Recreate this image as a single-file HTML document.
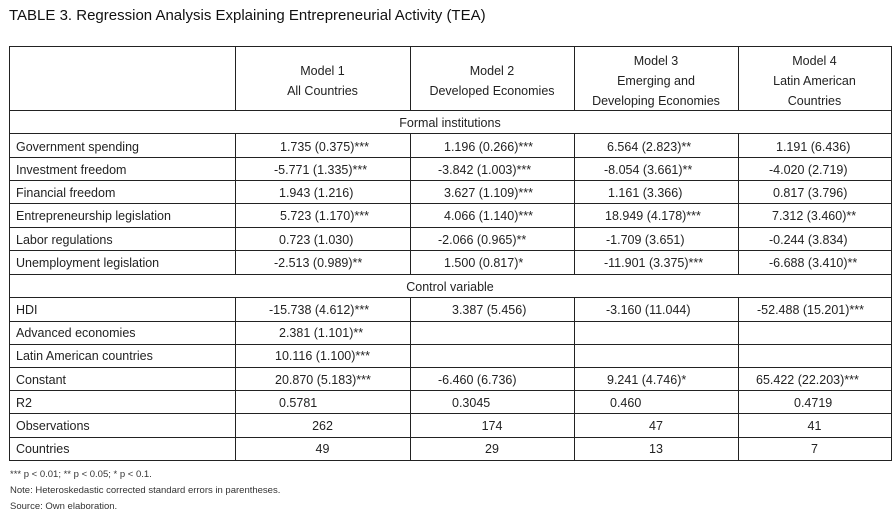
<!DOCTYPE html>
<html><head><meta charset="utf-8"><style>
body{margin:0;background:#fff;width:895px;height:530px;position:relative;overflow:hidden;font-family:"Liberation Sans",sans-serif;color:#222}
.t{position:absolute;white-space:nowrap;font-size:12.5px;line-height:14px}
.c{text-align:center}
.h{position:absolute;background:#222;height:1px}
.v{position:absolute;background:#222;width:1px}
.f{position:absolute;font-size:9.5px;white-space:nowrap;color:#333}
</style></head><body>
<div class="t" style="left:9px;top:8px;font-size:15px;line-height:16px;color:#111">TABLE 3. Regression Analysis Explaining Entrepreneurial Activity (TEA)</div>

<div class="h" style="left:9px;width:882px;top:46px"></div>
<div class="h" style="left:9px;width:882px;top:110px"></div>
<div class="h" style="left:9px;width:882px;top:133px"></div>
<div class="h" style="left:9px;width:882px;top:157px"></div>
<div class="h" style="left:9px;width:882px;top:180px"></div>
<div class="h" style="left:9px;width:882px;top:203px"></div>
<div class="h" style="left:9px;width:882px;top:227px"></div>
<div class="h" style="left:9px;width:882px;top:250px"></div>
<div class="h" style="left:9px;width:882px;top:274px"></div>
<div class="h" style="left:9px;width:882px;top:297px"></div>
<div class="h" style="left:9px;width:882px;top:321px"></div>
<div class="h" style="left:9px;width:882px;top:344px"></div>
<div class="h" style="left:9px;width:882px;top:367px"></div>
<div class="h" style="left:9px;width:882px;top:390px"></div>
<div class="h" style="left:9px;width:882px;top:413px"></div>
<div class="h" style="left:9px;width:882px;top:437px"></div>
<div class="h" style="left:9px;width:882px;top:460px"></div>
<div class="v" style="left:9px;top:46px;height:415px"></div>
<div class="v" style="left:891px;top:46px;height:415px"></div>
<div class="v" style="left:235px;top:46px;height:65px"></div>
<div class="v" style="left:410px;top:46px;height:65px"></div>
<div class="v" style="left:574px;top:46px;height:65px"></div>
<div class="v" style="left:738px;top:46px;height:65px"></div>
<div class="v" style="left:235px;top:133px;height:141px"></div>
<div class="v" style="left:410px;top:133px;height:141px"></div>
<div class="v" style="left:574px;top:133px;height:141px"></div>
<div class="v" style="left:738px;top:133px;height:141px"></div>
<div class="v" style="left:235px;top:297px;height:164px"></div>
<div class="v" style="left:410px;top:297px;height:164px"></div>
<div class="v" style="left:574px;top:297px;height:164px"></div>
<div class="v" style="left:738px;top:297px;height:164px"></div>

<div class="t c" style="left:235px;width:175px;top:61px;line-height:20px">Model 1<br>All Countries</div>
<div class="t c" style="left:410px;width:164px;top:61px;line-height:20px">Model 2<br>Developed Economies</div>
<div class="t c" style="left:574px;width:164px;top:51px;line-height:20px">Model 3<br>Emerging and<br>Developing Economies</div>
<div class="t c" style="left:738px;width:153px;top:51px;line-height:20px">Model 4<br>Latin American<br>Countries</div>
<div class="t c" style="left:9px;width:882px;top:116px">Formal institutions</div>
<div class="t c" style="left:9px;width:882px;top:280px">Control variable</div>

<div class="t" style="left:16px;top:140px">Government spending</div>
<div class="t" style="left:16px;top:163px">Investment freedom</div>
<div class="t" style="left:16px;top:186px">Financial freedom</div>
<div class="t" style="left:16px;top:209px">Entrepreneurship legislation</div>
<div class="t" style="left:16px;top:233px">Labor regulations</div>
<div class="t" style="left:16px;top:256px">Unemployment legislation</div>
<div class="t" style="left:16px;top:303px">HDI</div>
<div class="t" style="left:16px;top:326px">Advanced economies</div>
<div class="t" style="left:16px;top:349px">Latin American countries</div>
<div class="t" style="left:16px;top:373px">Constant</div>
<div class="t" style="left:16px;top:396px">R2</div>
<div class="t" style="left:16px;top:419px">Observations</div>
<div class="t" style="left:16px;top:442px">Countries</div>

<div class="t" style="left:280px;top:140px">1.735 (0.375)***</div>
<div class="t" style="left:274px;top:163px">-5.771 (1.335)***</div>
<div class="t" style="left:279px;top:186px">1.943 (1.216)</div>
<div class="t" style="left:280px;top:209px">5.723 (1.170)***</div>
<div class="t" style="left:279px;top:233px">0.723 (1.030)</div>
<div class="t" style="left:274px;top:256px">-2.513 (0.989)**</div>
<div class="t" style="left:269px;top:303px">-15.738 (4.612)***</div>
<div class="t" style="left:279px;top:326px">2.381 (1.101)**</div>
<div class="t" style="left:275px;top:349px">10.116 (1.100)***</div>
<div class="t" style="left:275px;top:373px">20.870 (5.183)***</div>
<div class="t" style="left:279px;top:396px">0.5781</div>
<div class="t c" style="left:235px;width:175px;top:419px">262</div>
<div class="t c" style="left:235px;width:175px;top:442px">49</div>

<div class="t" style="left:444px;top:140px">1.196 (0.266)***</div>
<div class="t" style="left:438px;top:163px">-3.842 (1.003)***</div>
<div class="t" style="left:444px;top:186px">3.627 (1.109)***</div>
<div class="t" style="left:444px;top:209px">4.066 (1.140)***</div>
<div class="t" style="left:438px;top:233px">-2.066 (0.965)**</div>
<div class="t" style="left:444px;top:256px">1.500 (0.817)*</div>
<div class="t" style="left:452px;top:303px">3.387 (5.456)</div>
<div class="t" style="left:438px;top:373px">-6.460 (6.736)</div>
<div class="t" style="left:452px;top:396px">0.3045</div>
<div class="t c" style="left:410px;width:164px;top:419px">174</div>
<div class="t c" style="left:410px;width:164px;top:442px">29</div>

<div class="t" style="left:607px;top:140px">6.564 (2.823)**</div>
<div class="t" style="left:604px;top:163px">-8.054 (3.661)**</div>
<div class="t" style="left:608px;top:186px">1.161 (3.366)</div>
<div class="t" style="left:605px;top:209px">18.949 (4.178)***</div>
<div class="t" style="left:606px;top:233px">-1.709 (3.651)</div>
<div class="t" style="left:604px;top:256px">-11.901 (3.375)***</div>
<div class="t" style="left:606px;top:303px">-3.160 (11.044)</div>
<div class="t" style="left:607px;top:373px">9.241 (4.746)*</div>
<div class="t" style="left:610px;top:396px">0.460</div>
<div class="t c" style="left:574px;width:164px;top:419px">47</div>
<div class="t c" style="left:574px;width:164px;top:442px">13</div>

<div class="t" style="left:776px;top:140px">1.191 (6.436)</div>
<div class="t" style="left:769px;top:163px">-4.020 (2.719)</div>
<div class="t" style="left:773px;top:186px">0.817 (3.796)</div>
<div class="t" style="left:772px;top:209px">7.312 (3.460)**</div>
<div class="t" style="left:769px;top:233px">-0.244 (3.834)</div>
<div class="t" style="left:769px;top:256px">-6.688 (3.410)**</div>
<div class="t" style="left:757px;top:303px">-52.488 (15.201)***</div>
<div class="t" style="left:756px;top:373px">65.422 (22.203)***</div>
<div class="t" style="left:794px;top:396px">0.4719</div>
<div class="t c" style="left:738px;width:153px;top:419px">41</div>
<div class="t c" style="left:738px;width:153px;top:442px">7</div>

<div class="f" style="left:10px;top:469px">*** p &lt; 0.01; ** p &lt; 0.05; * p &lt; 0.1.</div>
<div class="f" style="left:10px;top:485px">Note: Heteroskedastic corrected standard errors in parentheses.</div>
<div class="f" style="left:10px;top:501px">Source: Own elaboration.</div>
</body></html>
